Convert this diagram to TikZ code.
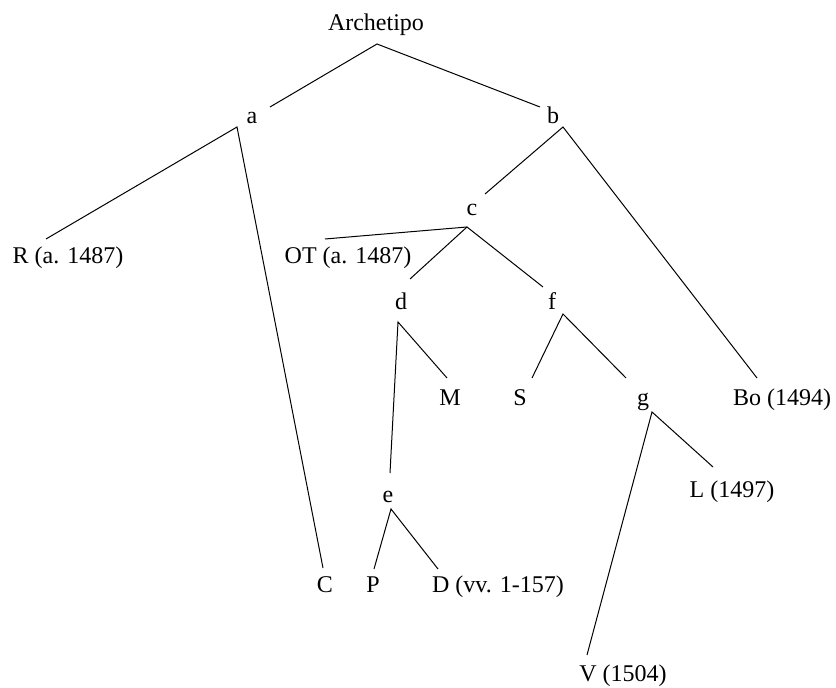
\documentclass[tikz,border=0pt]{standalone}
\usepackage{fontspec}
\setmainfont{Liberation Serif}

\begin{document}
\begin{tikzpicture}[
    x=0.5pt, y=-0.5pt,
    ms/.style={anchor=base, inner sep=0pt, font=\fontsize{12}{14}\selectfont},
    branch/.style={line width=0.5pt}
]
\useasboundingbox (0,0) rectangle (836,688);

% witnesses and lost copies
\node[ms] (arch) at (376,31) {Archetipo};
\node[ms] (a) at (252,124) {a};
\node[ms] (b) at (553,124) {b};
\node[ms] (c) at (472,216) {c};
\node[ms] (R) at (68,264) {R (a. 1487)};
\node[ms] (OT) at (348,264) {OT (a. 1487)};
\node[ms] (d) at (401,310) {d};
\node[ms] (f) at (552,310) {f};
\node[ms] (M) at (450,406) {M};
\node[ms] (S) at (520,406) {S};
\node[ms] (g) at (643,406) {g};
\node[ms] (Bo) at (782,406) {Bo (1494)};
\node[ms] (e) at (388,503) {e};
\node[ms] (L) at (732,498) {L (1497)};
\node[ms] (C) at (325,593) {C};
\node[ms] (P) at (373,593) {P};
\node[ms] (D) at (498,593) {D (vv. 1-157)};
\node[ms] (V) at (623,682) {V (1504)};

% branching points under each copy
\coordinate (arch-fork) at (377,44);
\coordinate (a-fork) at (237,127);
\coordinate (b-fork) at (563,127);
\coordinate (c-fork) at (467,227);
\coordinate (d-fork) at (398,322);
\coordinate (f-fork) at (563,314);
\coordinate (g-fork) at (652,412);
\coordinate (e-fork) at (391,509);

% where the branches reach each witness
\coordinate (a-in) at (270,107);
\coordinate (b-in) at (540,107);
\coordinate (c-in) at (485,194);
\coordinate (R-in) at (46,239);
\coordinate (OT-in) at (325,239);
\coordinate (d-in) at (410,279);
\coordinate (f-in) at (543,287);
\coordinate (M-in) at (447,378);
\coordinate (S-in) at (532,378);
\coordinate (g-in) at (626,378);
\coordinate (Bo-in) at (757,378);
\coordinate (e-in) at (390,473);
\coordinate (L-in) at (713,467);
\coordinate (C-in) at (323,568);
\coordinate (P-in) at (374,569);
\coordinate (D-in) at (438,569);
\coordinate (V-in) at (587,655);

\draw[branch] (a-in) -- (arch-fork) -- (b-in);
\draw[branch] (R-in) -- (a-fork) -- (C-in);
\draw[branch] (c-in) -- (b-fork) -- (Bo-in);
\draw[branch] (OT-in) -- (c-fork);
\draw[branch] (d-in) -- (c-fork) -- (f-in);
\draw[branch] (e-in) -- (d-fork) -- (M-in);
\draw[branch] (S-in) -- (f-fork) -- (g-in);
\draw[branch] (V-in) -- (g-fork) -- (L-in);
\draw[branch] (P-in) -- (e-fork) -- (D-in);

\end{tikzpicture}
\end{document}
